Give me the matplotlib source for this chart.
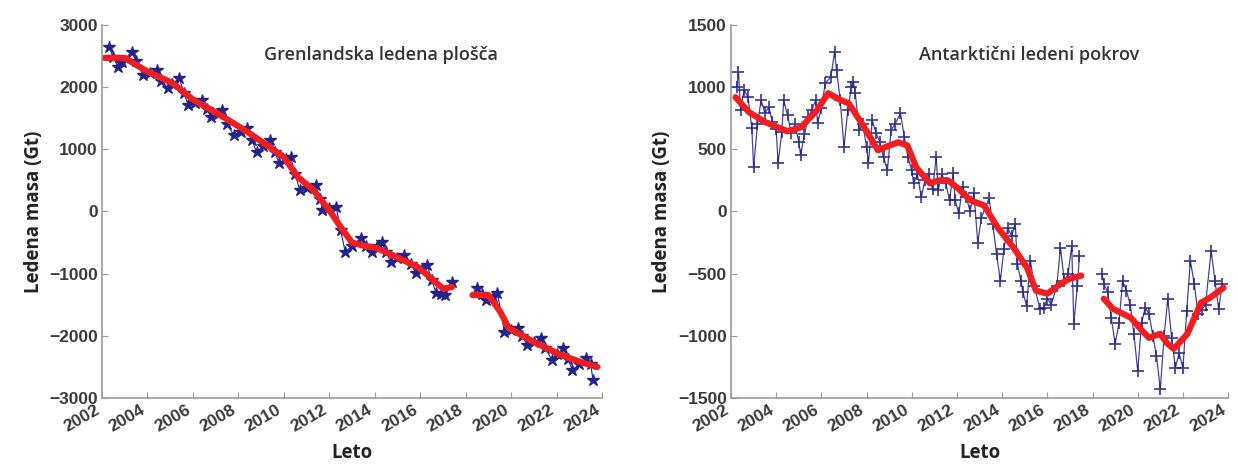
import matplotlib.pyplot as plt

# Greenland - monthly-ish GRACE points (blue stars) and smoothed trend (red)
gr_t1 = [2002.3, 2002.5, 2002.7, 2002.9, 2003.3, 2003.5, 2003.8, 2004.1, 2004.4, 2004.6,
         2004.9, 2005.1, 2005.4, 2005.6, 2005.8, 2006.1, 2006.4, 2006.6, 2006.8, 2007.1,
         2007.3, 2007.5, 2007.8, 2008.1, 2008.4, 2008.6, 2008.8, 2009.1, 2009.4, 2009.6,
         2009.8, 2010.1, 2010.3, 2010.5, 2010.7, 2011.0, 2011.4, 2011.6, 2011.7, 2012.0,
         2012.3, 2012.5, 2012.7, 2013.0, 2013.4, 2013.6, 2013.9, 2014.1, 2014.3, 2014.5,
         2014.7, 2015.0, 2015.3, 2015.6, 2015.8, 2016.1, 2016.3, 2016.5, 2016.7, 2016.9,
         2017.1, 2017.4]
gr_v1 = [2650, 2480, 2325, 2400, 2570, 2420, 2195, 2230, 2275, 2100,
         1985, 2050, 2150, 1900, 1713, 1750, 1795, 1650, 1520, 1570,
         1630, 1400, 1230, 1280, 1343, 1150, 957, 1050, 1150, 950,
         780, 850, 876, 600, 345, 380, 425, 200, 23, 50,
         70, -300, -652, -550, -427, -550, -652, -560, -490, -650,
         -813, -750, -700, -850, -990, -920, -860, -1100, -1312, -1320,
         -1344, -1135]
gr_t2 = [2018.5, 2018.7, 2018.9, 2019.2, 2019.4, 2019.7, 2020.0, 2020.3, 2020.5, 2020.7,
         2021.0, 2021.3, 2021.5, 2021.8, 2022.0, 2022.3, 2022.5, 2022.7, 2023.0, 2023.3,
         2023.5, 2023.6]
gr_v2 = [-1232, -1330, -1425, -1370, -1312, -1940, -1900, -1875, -2000, -2150,
         -2100, -2040, -2200, -2390, -2300, -2200, -2380, -2550, -2450, -2360,
         -2450, -2710]
gr_trend_t1 = [2002.1, 2003.0, 2004.0, 2005.1, 2006.0, 2007.2, 2008.4, 2009.2, 2010.0, 2010.6,
               2011.3, 2012.0, 2012.5, 2013.0, 2013.5, 2014.1, 2015.0, 2015.9, 2016.5, 2017.0,
               2017.4]
gr_trend_v1 = [2470, 2470, 2250, 2067, 1800, 1552, 1280, 1080, 876, 560,
               345, 20, -250, -500, -550, -590, -740, -894, -1080, -1240,
               -1216]
gr_trend_t2 = [2018.3, 2019.0, 2019.5, 2019.9, 2021.0, 2022.2, 2023.2, 2023.8]
gr_trend_v2 = [-1344, -1344, -1600, -1875, -2100, -2310, -2440, -2500]

# Antarctica
an_t1 = [2002.25, 2002.33, 2002.42, 2002.58, 2002.75, 2002.92, 2003.00, 2003.17, 2003.33, 2003.50,
         2003.67, 2003.83, 2004.00, 2004.08, 2004.25, 2004.33, 2004.50, 2004.67, 2004.83, 2005.00,
         2005.08, 2005.25, 2005.42, 2005.58, 2005.75, 2005.83, 2006.00, 2006.17, 2006.42, 2006.58,
         2006.67, 2006.83, 2007.00, 2007.17, 2007.33, 2007.42, 2007.50, 2007.67, 2007.83, 2008.00,
         2008.08, 2008.25, 2008.42, 2008.58, 2008.75, 2008.92, 2009.08, 2009.25, 2009.50, 2009.67,
         2009.83, 2010.00, 2010.08, 2010.25, 2010.42, 2010.58, 2010.75, 2010.92, 2011.08, 2011.17,
         2011.33, 2011.50, 2011.67, 2011.83, 2011.92, 2012.08, 2012.25, 2012.42, 2012.58, 2012.75,
         2012.92, 2013.08, 2013.42, 2013.58, 2013.75, 2013.92, 2014.08, 2014.25, 2014.42, 2014.58,
         2014.67, 2014.83, 2014.92, 2015.08, 2015.25, 2015.42, 2015.67, 2015.83, 2016.00, 2016.17,
         2016.42, 2016.58, 2016.75, 2016.92, 2017.08, 2017.17, 2017.33, 2017.42]
an_v1 = [1000, 1121, 815, 976, 920, 670, 355, 700, 895, 790,
         840, 720, 660, 387, 640, 895, 774, 629, 700, 560,
         451, 620, 758, 820, 895, 710, 830, 1032, 1081, 1282,
         1137, 900, 516, 820, 1000, 1040, 950, 653, 700, 520,
         387, 734, 629, 560, 435, 330, 653, 700, 790, 600,
         435, 330, 226, 300, 113, 250, 300, 180, 435, 169,
         300, 230, 89, 306, 89, -16, 200, 113, 0, 150,
         -250, -50, 105, -100, -339, -557, -300, -129, -200, -97,
         -419, -557, -650, -758, -395, -600, -782, -774, -700, -750,
         -600, -290, -557, -500, -274, -903, -600, -355]
an_t2 = [2018.42, 2018.50, 2018.67, 2018.83, 2019.00, 2019.17, 2019.33, 2019.50, 2019.67, 2019.83,
         2020.00, 2020.17, 2020.33, 2020.50, 2020.67, 2020.83, 2021.00, 2021.17, 2021.33, 2021.50,
         2021.67, 2021.83, 2022.00, 2022.17, 2022.33, 2022.50, 2022.67, 2022.83, 2023.00, 2023.25,
         2023.42, 2023.58, 2023.75]
an_v2 = [-500, -581, -650, -855, -1065, -900, -557, -637, -750, -984,
         -1282, -900, -774, -823, -1000, -1161, -1427, -1000, -702, -1016,
         -1258, -1137, -1258, -800, -395, -581, -823, -790, -750, -315,
         -557, -782, -581]
an_trend_t1 = [2002.2, 2002.8, 2003.5, 2004.5, 2005.1, 2005.8, 2006.3, 2006.8, 2007.2, 2007.9,
               2008.5, 2009.0, 2009.4, 2009.8, 2010.2, 2010.8, 2011.2, 2011.6, 2012.0, 2012.6,
               2013.2, 2013.8, 2014.5, 2015.1, 2015.5, 2016.0, 2016.6, 2017.0, 2017.5]
an_trend_v1 = [919, 798, 720, 645, 677, 814, 952, 900, 871, 677,
               492, 530, 556, 532, 355, 226, 250, 250, 194, 89,
               49, -129, -290, -452, -637, -661, -581, -540, -516]
an_trend_t2 = [2018.5, 2018.9, 2019.7, 2020.2, 2020.5, 2021.0, 2021.3, 2021.6, 2022.2, 2022.8,
               2023.2, 2023.8]
an_trend_v2 = [-702, -782, -855, -960, -1016, -984, -1060, -1105, -984, -734,
               -694, -613]

year_ticks = list(range(2002, 2025, 2))

BLUE = '#23238a'
RED = '#f01e1e'
GREY = '#9a9a9a'
TICK_FONT = dict(family=['Liberation Sans Narrow', 'Liberation Sans'], size=12.5,
                 weight='bold', color='#3a3a3a')
LABEL_FONT = dict(family='Open Sans', size=13.5, weight='bold', color='#222222')

fig = plt.figure(figsize=(12.38, 4.71), dpi=100)
ax1 = fig.add_axes([0.0824, 0.155, 0.4039, 0.792])
ax2 = fig.add_axes([0.5905, 0.155, 0.4015, 0.792])


def style_axis(ax, ylim, yticks, title, title_x):
    ax.set_xlim(2002, 2024)
    ax.set_ylim(*ylim)
    ax.set_xticks(year_ticks)
    ax.set_yticks(yticks)
    ax.set_xticklabels([str(y) for y in year_ticks], rotation=30, ha='right', **TICK_FONT)
    ax.set_yticklabels(['\u2212' + str(-v) if v < 0 else str(v) for v in yticks], **TICK_FONT)
    for side in ['top', 'right']:
        ax.spines[side].set_visible(False)
    for side in ['left', 'bottom']:
        ax.spines[side].set_color(GREY)
        ax.spines[side].set_linewidth(1.2)
    ax.tick_params(direction='in', length=4, color=GREY, pad=3)
    ax.set_xlabel('Leto', labelpad=6, **LABEL_FONT)
    ax.set_ylabel('Ledena masa (Gt)', labelpad=4, **LABEL_FONT)
    ax.text(title_x, 0.92, title, transform=ax.transAxes, ha='center', va='center',
            family='Open Sans', size=13, weight='semibold', color='#333333')


# Greenland
ax1.plot(gr_t1, gr_v1, color=BLUE, lw=0.8, marker='*', ms=9, mec=BLUE, mfc=BLUE)
ax1.plot(gr_t2, gr_v2, color=BLUE, lw=0.8, marker='*', ms=9, mec=BLUE, mfc=BLUE)
ax1.plot(gr_trend_t1, gr_trend_v1, color=RED, lw=4.5, solid_capstyle='round')
ax1.plot(gr_trend_t2, gr_trend_v2, color=RED, lw=4.5, solid_capstyle='round')
style_axis(ax1, (-3000, 3000), list(range(-3000, 3001, 1000)),
           'Grenlandska ledena plošča', 0.558)

# Antarctica
ax2.plot(an_t1, an_v1, color=BLUE, lw=0.9, marker='+', ms=9, mew=1.3, alpha=0.85)
ax2.plot(an_t2, an_v2, color=BLUE, lw=0.9, marker='+', ms=9, mew=1.3, alpha=0.85)
ax2.plot(an_trend_t1, an_trend_v1, color=RED, lw=4.5, solid_capstyle='round')
ax2.plot(an_trend_t2, an_trend_v2, color=RED, lw=4.5, solid_capstyle='round')
style_axis(ax2, (-1500, 1500), list(range(-1500, 1501, 500)),
           'Antarktični ledeni pokrov', 0.60)

fig.savefig('out.png', dpi=100)
